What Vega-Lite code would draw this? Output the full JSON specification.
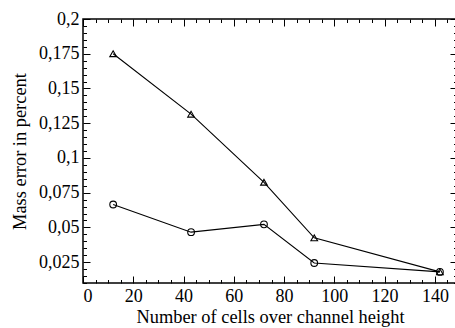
{
  "$schema": "https://vega.github.io/schema/vega-lite/v6.json",
  "autosize": "none",
  "width": 374,
  "height": 264,
  "padding": {"left": 83, "top": 19, "right": 0, "bottom": 45},
  "background": "white",
  "config": {
    "view": {"stroke": "black", "strokeWidth": 1.5},
    "axis": {
      "grid": false,
      "domain": false,
      "tickColor": "black",
      "tickWidth": 1,
      "labelFont": "Liberation Serif",
      "labelFontSize": 18,
      "labelColor": "black",
      "titleFont": "Liberation Serif",
      "titleFontSize": 18.4,
      "titleFontWeight": "normal",
      "titleColor": "black"
    }
  },
  "data": {
    "values": [
      {"cells": 12, "error": 0.175, "series": "triangle"},
      {"cells": 43, "error": 0.1315, "series": "triangle"},
      {"cells": 72, "error": 0.0825, "series": "triangle"},
      {"cells": 92, "error": 0.0425, "series": "triangle"},
      {"cells": 142, "error": 0.018, "series": "triangle"},
      {"cells": 12, "error": 0.0665, "series": "circle"},
      {"cells": 43, "error": 0.0466, "series": "circle"},
      {"cells": 72, "error": 0.0522, "series": "circle"},
      {"cells": 92, "error": 0.0244, "series": "circle"},
      {"cells": 142, "error": 0.018, "series": "circle"}
    ]
  },
  "resolve": {"axis": {"x": "independent", "y": "independent"}},
  "layer": [
    {
      "mark": {"type": "line", "color": "black", "strokeWidth": 1.1},
      "encoding": {
        "x": {
          "field": "cells", "type": "quantitative",
          "scale": {"domain": [0, 148.8], "nice": false, "zero": false},
          "axis": {"orient": "bottom", "values": [0, 20, 40, 60, 80, 100, 120, 140], "tickSize": -7, "labelPadding": 11.5, "title": "Number of cells over channel height", "titlePadding": 1.5}
        },
        "y": {
          "field": "error", "type": "quantitative",
          "scale": {"domain": [0.01, 0.2], "nice": false, "zero": false},
          "axis": {"orient": "left", "values": [0.025, 0.05, 0.075, 0.1, 0.125, 0.15, 0.175, 0.2], "tickSize": -7, "labelPadding": 11, "labelExpr": "replace(format(datum.value, '.3~f'), '.', ',')", "title": "Mass error in percent", "titlePadding": 9}
        },
        "detail": {"field": "series"}
      }
    },
    {
      "mark": {"type": "point", "filled": false, "color": "black", "strokeWidth": 1.1, "size": 45, "opacity": 1},
      "encoding": {
        "x": {
          "field": "cells", "type": "quantitative",
          "axis": {"orient": "bottom", "values": [5, 10, 15, 25, 30, 35, 45, 50, 55, 65, 70, 75, 85, 90, 95, 105, 110, 115, 125, 130, 135, 145], "tickSize": -3.5, "labels": false, "title": null}
        },
        "y": {
          "field": "error", "type": "quantitative",
          "axis": {"orient": "left", "values": [0.01, 0.015, 0.02, 0.03, 0.035, 0.04, 0.045, 0.055, 0.06, 0.065, 0.07, 0.08, 0.085, 0.09, 0.095, 0.105, 0.11, 0.115, 0.12, 0.13, 0.135, 0.14, 0.145, 0.155, 0.16, 0.165, 0.17, 0.18, 0.185, 0.19, 0.195], "tickSize": -3.5, "labels": false, "title": null}
        },
        "shape": {"field": "series", "type": "nominal", "scale": {"domain": ["triangle", "circle"], "range": ["triangle-up", "circle"]}, "legend": null}
      }
    },
    {
      "mark": {"type": "point", "opacity": 0},
      "encoding": {
        "x": {
          "field": "cells", "type": "quantitative",
          "axis": {"orient": "top", "values": [0, 20, 40, 60, 80, 100, 120, 140], "tickSize": -7, "labels": false, "title": null}
        },
        "y": {
          "field": "error", "type": "quantitative",
          "axis": {"orient": "right", "values": [0.025, 0.05, 0.075, 0.1, 0.125, 0.15, 0.175, 0.2], "tickSize": -7, "labels": false, "title": null}
        }
      }
    },
    {
      "mark": {"type": "point", "opacity": 0},
      "encoding": {
        "x": {
          "field": "cells", "type": "quantitative",
          "axis": {"orient": "top", "values": [5, 10, 15, 25, 30, 35, 45, 50, 55, 65, 70, 75, 85, 90, 95, 105, 110, 115, 125, 130, 135, 145], "tickSize": -3.5, "labels": false, "title": null}
        },
        "y": {
          "field": "error", "type": "quantitative",
          "axis": {"orient": "right", "values": [0.01, 0.015, 0.02, 0.03, 0.035, 0.04, 0.045, 0.055, 0.06, 0.065, 0.07, 0.08, 0.085, 0.09, 0.095, 0.105, 0.11, 0.115, 0.12, 0.13, 0.135, 0.14, 0.145, 0.155, 0.16, 0.165, 0.17, 0.18, 0.185, 0.19, 0.195], "tickSize": -3.5, "labels": false, "title": null}
        }
      }
    }
  ]
}
